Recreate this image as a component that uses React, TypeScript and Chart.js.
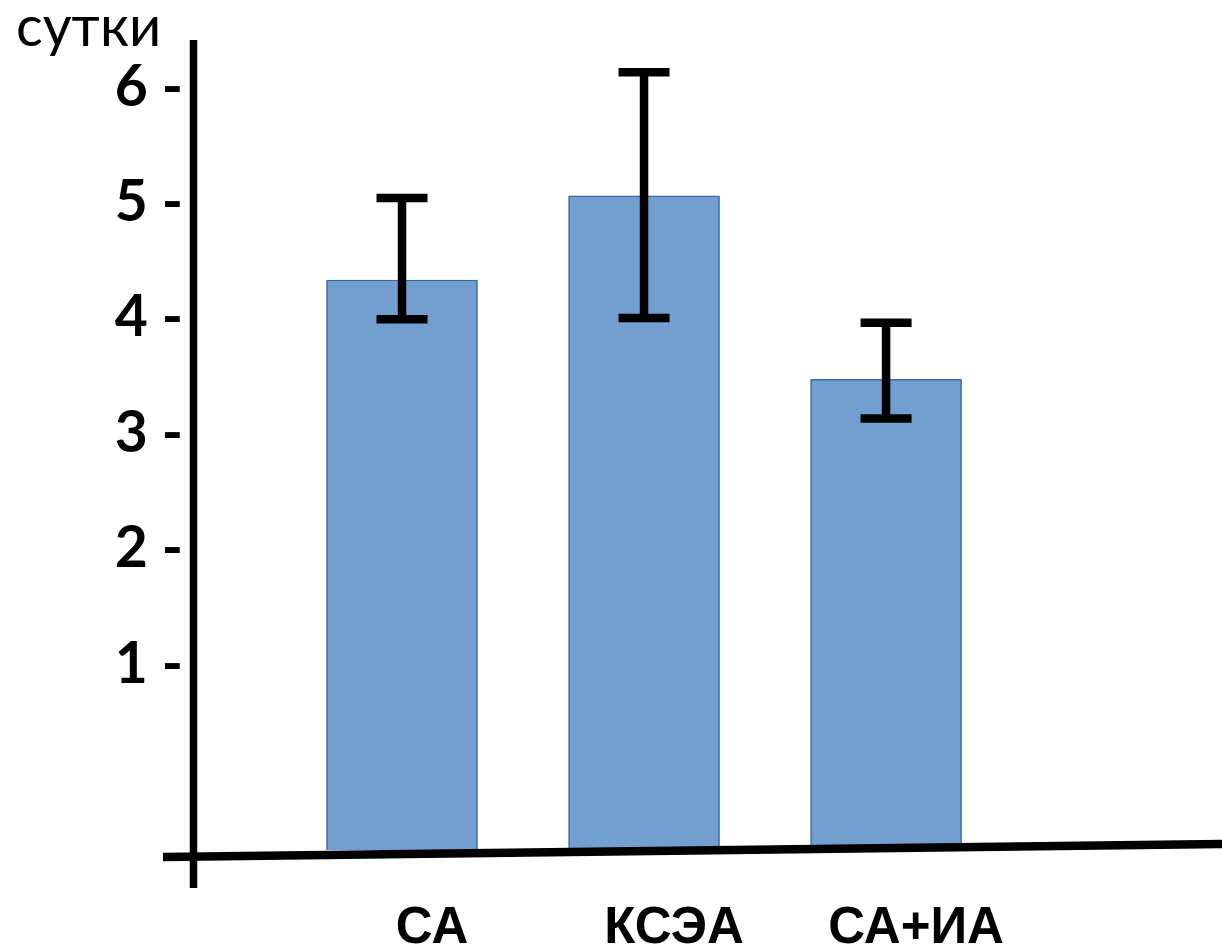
import React, { useEffect, useRef } from "react";
import { Chart, registerables } from "chart.js";

Chart.register(...registerables);

const categories = ["СА", "КСЭА", "СА+ИА"];
const means = [4.33, 5.06, 3.47];
const errLow = [3.99, 4.0, 3.13];
const errHigh = [5.04, 6.13, 3.96];
const yTicks = [1, 2, 3, 4, 5, 6];
const yAxisTitle = "сутки";

const Y_MIN = -0.61;
const Y_MAX = 6.41;
const X_MIN = 0.1364;
const X_MAX = 4.388;

const decorPlugin = {
  id: "decor",
  afterDatasetsDraw(chart: any) {
    const { ctx, chartArea, scales } = chart;
    const x = scales.x;
    const y = scales.y;
    ctx.save();
    ctx.strokeStyle = "#000";
    ctx.lineCap = "butt";
    // error bars
    ctx.lineWidth = 8.5;
    categories.forEach((_, i) => {
      const px = x.getPixelForValue(i + 1);
      const top = y.getPixelForValue(errHigh[i]);
      const bot = y.getPixelForValue(errLow[i]);
      ctx.beginPath();
      ctx.moveTo(px, top - 4);
      ctx.lineTo(px, bot + 4);
      ctx.moveTo(px - 25.5, top);
      ctx.lineTo(px + 25.5, top);
      ctx.moveTo(px - 25.5, bot);
      ctx.lineTo(px + 25.5, bot);
      ctx.stroke();
    });
    // y axis line
    ctx.lineWidth = 7.5;
    ctx.beginPath();
    ctx.moveTo(chartArea.left + 0.5, chartArea.top);
    ctx.lineTo(chartArea.left + 0.5, chartArea.bottom + 38);
    ctx.stroke();
    // x axis line (slightly tilted as in the drawing)
    ctx.lineWidth = 8.5;
    ctx.beginPath();
    ctx.moveTo(chartArea.left - 30, chartArea.bottom + 7);
    ctx.lineTo(chartArea.right, chartArea.bottom - 6);
    ctx.stroke();
    // axis title
    ctx.fillStyle = "#000";
    ctx.font = "56px Lato";
    ctx.textAlign = "left";
    ctx.textBaseline = "alphabetic";
    ctx.fillText(yAxisTitle, 16, 46);
    ctx.restore();
  },
};

export default function App() {
  const ref = useRef<HTMLCanvasElement | null>(null);

  useEffect(() => {
    if (!ref.current) return;
    const chart = new Chart(ref.current, {
      type: "bar",
      data: {
        datasets: [
          {
            data: categories.map((_, i) => ({ x: i + 1, y: means[i] })),
            base: Y_MIN,
            backgroundColor: "#729fcf",
            borderColor: "#3b66a8",
            borderWidth: 1.5,
            barThickness: 151,
          } as any,
        ],
      },
      options: {
        animation: false,
        responsive: false,
        maintainAspectRatio: false,
        layout: { padding: { top: 40, right: 0, left: 0, bottom: 0 } },
        plugins: {
          legend: { display: false },
          tooltip: { enabled: false },
          title: { display: false },
        },
        scales: {
          x: {
            type: "linear",
            offset: false,
            bounds: "data",
            min: X_MIN,
            max: X_MAX,
            grid: { display: false, offset: false },
            border: { display: false },
            afterDataLimits: (s: any) => {
              s.min = X_MIN;
              s.max = X_MAX;
            },
            afterBuildTicks: (s: any) => {
              s.ticks = categories.map((_, i) => ({ value: i + 1 }));
            },
            afterFit: (s: any) => {
              s.height = 100;
            },
            ticks: {
              autoSkip: false,
              maxRotation: 0,
              minRotation: 0,
              labelOffset: 30,
              padding: 40,
              color: "#000",
              font: { family: "'Liberation Sans', Arial, sans-serif", size: 51, weight: "bold" },
              callback: (v: any) => categories[Math.round(Number(v)) - 1] ?? "",
            },
          },
          y: {
            type: "linear",
            min: Y_MIN,
            max: Y_MAX,
            grid: { display: false },
            border: { display: false },
            afterBuildTicks: (s: any) => {
              s.ticks = yTicks.map((v) => ({ value: v }));
            },
            afterFit: (s: any) => {
              s.width = 193;
            },
            ticks: {
              padding: 2,
              color: "#000",
              font: { family: "Lato, sans-serif", size: 57, weight: "bold" },
              callback: (v: any) => `${v} -`,
            },
          },
        },
      },
      plugins: [decorPlugin],
    });
    return () => chart.destroy();
  }, []);

  return (
    <div style={{ position: "absolute", left: 0, top: 0, width: 1222, height: 950, background: "#fff" }}>
      <canvas ref={ref} width={1222} height={950} style={{ display: "block", width: 1222, height: 950 }} />
    </div>
  );
}
